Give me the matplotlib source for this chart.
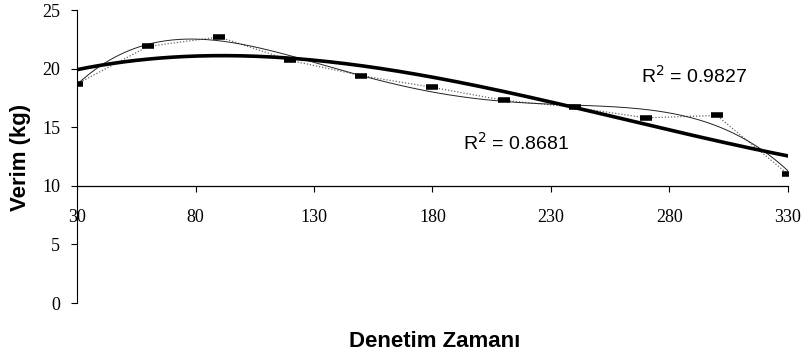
import numpy as np
import matplotlib
matplotlib.use("Agg")
import matplotlib.pyplot as plt

# denetim zamani (gun) ve verim (kg)
zaman = [30, 60, 90, 120, 150, 180, 210, 240, 270, 300, 330]
verim = [18.7, 21.9, 22.7, 20.7, 19.4, 18.4, 17.3, 16.7, 15.8, 16.0, 11.0]

x_ticks = [30, 80, 130, 180, 230, 280, 330]
y_ticks = [0, 5, 10, 15, 20, 25]
r2_labels = ["R$^2$ = 0.9827", "R$^2$ = 0.8681"]

x = np.array(zaman, dtype=float)
y = np.array(verim)
xs = np.linspace(30, 330, 300)

# polinom trend cizgileri (3. ve 4. derece)
p3 = np.polyfit(x, y, 3)
p4 = np.polyfit(x, y, 4)

fig = plt.figure(figsize=(8.04, 3.58), dpi=100)
ax = fig.add_axes([0.0958, 0.1536, 0.8842, 0.8184])

ax.plot(x, y, linestyle=(0, (1, 1.5)), color="#666666", linewidth=0.9)
ax.plot(xs, np.polyval(p4, xs), color="#222222", linewidth=0.7)
ax.plot(xs, np.polyval(p3, xs), color="black", linewidth=2.6)
ax.plot(x, y, linestyle="none", marker="_", markersize=8, markeredgewidth=4, color="black")

ax.set_xlim(30, 330)
ax.set_ylim(0, 25)
ax.spines["top"].set_visible(False)
ax.spines["right"].set_visible(False)
ax.spines["bottom"].set_position(("data", 10))
ax.spines["bottom"].set_linewidth(0.9)
ax.spines["left"].set_linewidth(0.8)
ax.set_xticks(x_ticks)
ax.set_yticks(y_ticks)
ax.tick_params(axis="x", direction="out", length=4, width=0.8, pad=13)
ax.tick_params(axis="y", direction="out", length=4, width=0.8, pad=8)
for lab in ax.get_xticklabels() + ax.get_yticklabels():
    lab.set_fontfamily("Liberation Serif")
    lab.set_fontsize(13)

ax.text(268, 19.4, r2_labels[0], fontsize=14, family="Liberation Sans", va="center")
ax.text(193, 13.7, r2_labels[1], fontsize=14, family="Liberation Sans", va="center")

fig.text(0.025, 0.56, "Verim (kg)", rotation=90, fontsize=16, fontweight="bold",
         family="Liberation Sans", ha="center", va="center")
fig.text(0.541, 0.045, "Denetim Zamanı", fontsize=16, fontweight="bold",
         family="Liberation Sans", ha="center", va="center")

fig.savefig("out.png", dpi=100)
